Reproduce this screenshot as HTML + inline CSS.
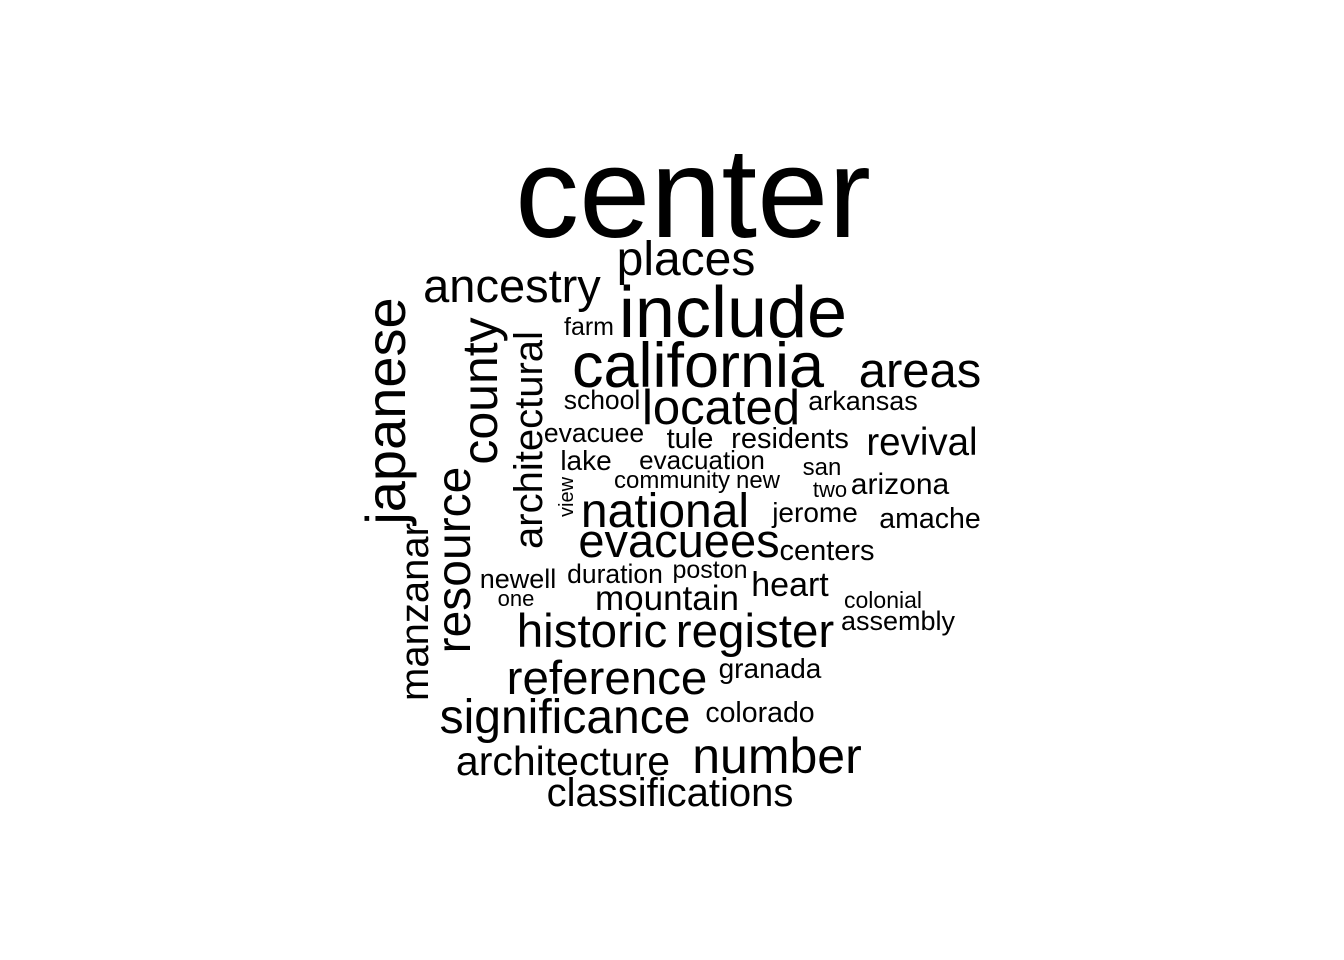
<!DOCTYPE html>
<html><head><meta charset="utf-8"><style>
html,body{margin:0;padding:0;background:#fff;}
svg{display:block;}
text{font-family:"Liberation Sans",Arial,sans-serif;fill:#000;text-anchor:middle;}
</style></head>
<body>
<svg width="1344" height="960" viewBox="0 0 1344 960">
<rect width="1344" height="960" fill="#fff"/>
<g id="words"></g>
</svg>
<script>
const words = ["center","places","ancestry","include","farm","california","areas","located","school","arkansas","evacuee","tule","residents","revival","lake","evacuation","san","community","new","two","arizona","national","jerome","amache","evacuees","centers","newell","duration","poston","heart","one","mountain","colonial","assembly","historic","register","granada","reference","colorado","significance","architecture","number","classifications","japanese","manzanar","resource","county","architectural","view"];
const sizes = [128,48,47,72,25,63,49,49,26.5,27,26.5,29,29,38.5,28,26,24,24,24,22,30,48,28,28.5,47,29,27,26.5,25,34,22,35,23,27,47.5,47.5,28,47.5,28.5,48,41,50,40,56,40,48,50,40,20];
const xs = [693,686,512,733,589,698,920,721,602,863,594,690,790,922,586,702,822,672,758,830,900,665,815,930,679,827,518,615,710,790,516,667,883,898,592,755,770,607,760,565,563,777,670,405,428,470,497,542,573];
const ys = [237,275,302,337,335,387,387,424,409,410,442,448,448,455,470,469,475,488,488,497,494,527,522,528,557,560,588,583,578,596,606,610,608,630,647,647,678,694,722,733,775,773,806,411,612,560,391,440,497];
const rotated = [0,0,0,0,0,0,0,0,0,0,0,0,0,0,0,0,0,0,0,0,0,0,0,0,0,0,0,0,0,0,0,0,0,0,0,0,0,0,0,0,0,0,0,1,1,1,1,1,1];
const g = document.getElementById('words');
words.forEach((w,i)=>{
  const t = document.createElementNS('http://www.w3.org/2000/svg','text');
  t.textContent = w;
  t.setAttribute('font-size', sizes[i]);
  if (rotated[i]) {
    t.setAttribute('transform', 'translate(' + xs[i] + ',' + ys[i] + ') rotate(-90)');
    t.setAttribute('x', 0); t.setAttribute('y', 0);
  } else {
    t.setAttribute('x', xs[i]); t.setAttribute('y', ys[i]);
  }
  
  
  g.appendChild(t);
});
</script>
</body></html>
